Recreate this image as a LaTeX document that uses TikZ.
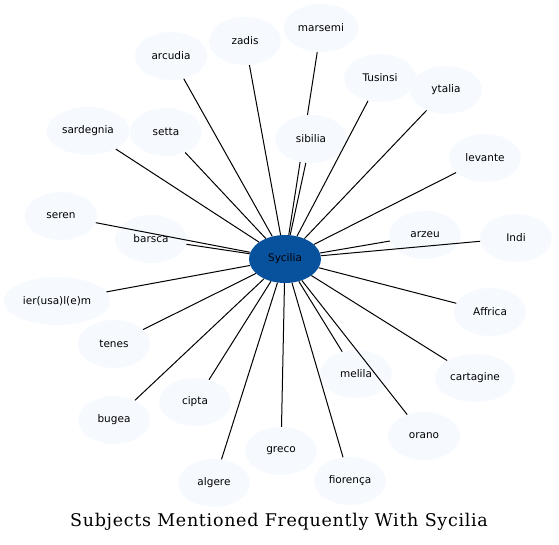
\documentclass[tikz,border=0pt]{standalone}
\usepackage{fontspec}
\setmainfont{DejaVu Serif}
\setsansfont{DejaVu Sans}
\usetikzlibrary{shapes.geometric,backgrounds}
\definecolor{sycHub}{RGB}{8,81,156}
\definecolor{sycLeaf}{RGB}{246,250,255}

\begin{document}
\begin{tikzpicture}[
  x=1pt, y=-1pt,
  leaf/.style={ellipse, fill=sycLeaf, minimum width=72pt, minimum height=48pt,
               inner sep=3.5pt, text=black, font=\sffamily\fontsize{10.5}{12}\selectfont},
  hub/.style={leaf, fill=sycHub},
  link/.style={line width=1pt}
]
\useasboundingbox (0,0) rectangle (559,544);
\node[hub] (sycilia) at (285,259) {Sycilia};
% outer ring
\node[leaf] (marsemi) at (321,28) {marsemi};
\node[leaf] (zadis) at (245,41) {zadis};
\node[leaf] (arcudia) at (171,56) {arcudia};
\node[leaf] (tusinsi) at (380,78) {Tusinsi};
\node[leaf] (ytalia) at (446,90) {ytalia};
\node[leaf] (sardegnia) at (88,131) {sardegnia};
\node[leaf] (setta) at (166,132) {setta};
\node[leaf] (sibilia) at (311,139) {sibilia};
\node[leaf] (levante) at (485,158) {levante};
\node[leaf] (seren) at (61,216) {seren};
\node[leaf] (barsca) at (151,239) {barsca};
\node[leaf] (arzeu) at (425,235) {arzeu};
\node[leaf] (indi) at (516,238) {Indi};
\node[leaf] (ierusalem) at (57,301) {ier(usa)l(e)m};
\node[leaf] (affrica) at (490,312) {Affrica};
\node[leaf] (tenes) at (114,344) {tenes};
\node[leaf] (melila) at (356,374) {melila};
\node[leaf] (cartagine) at (475,378) {cartagine};
\node[leaf] (cipta) at (195,402) {cipta};
\node[leaf] (bugea) at (114,420) {bugea};
\node[leaf] (orano) at (424,436) {orano};
\node[leaf] (greco) at (281,451) {greco};
\node[leaf] (algere) at (214,483) {algere};
\node[leaf] (fiorenca) at (350,481) {fiorença};
% links
\begin{pgfonlayer}{background}
\draw[link] (sycilia) -- (marsemi);
\end{pgfonlayer}
\foreach \n in {zadis,arcudia,tusinsi,ytalia,sardegnia,setta,sibilia,levante,
                seren,barsca,arzeu,indi,ierusalem,affrica,tenes,melila,
                cartagine,cipta,bugea,orano,greco,algere,fiorenca}
  \draw[link] (sycilia) -- (\n);
\node[font=\fontsize{17.5}{20}\selectfont\addfontfeatures{LetterSpace=4}] (title) at (279,522) {Subjects Mentioned Frequently With Sycilia};
\end{tikzpicture}
\end{document}
